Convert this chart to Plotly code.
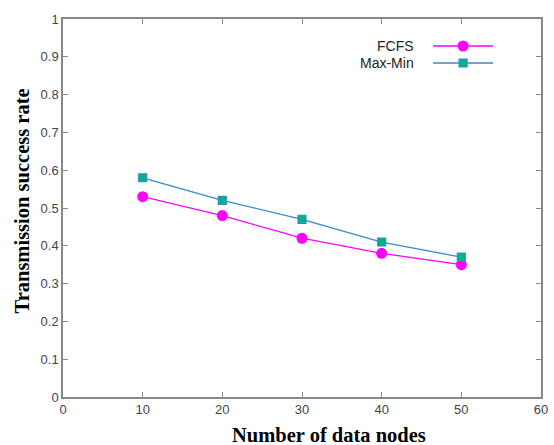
import plotly.graph_objects as go

nodes = [10, 20, 30, 40, 50]
fcfs = [0.53, 0.48, 0.42, 0.38, 0.35]
maxmin = [0.58, 0.52, 0.47, 0.41, 0.37]
series_names = ["FCFS", "Max-Min"]

fig = go.Figure()
fig.add_trace(go.Scatter(x=nodes, y=fcfs, mode="lines+markers", name=series_names[0],
                         line=dict(color="#FF00FF", width=1.3),
                         marker=dict(symbol="circle", size=11, color="#FF00FF")))
fig.add_trace(go.Scatter(x=nodes, y=maxmin, mode="lines+markers", name=series_names[1],
                         line=dict(color="#3A8AC9", width=1.3),
                         marker=dict(symbol="square", size=8, color="#00B386",
                                     line=dict(color="#3A8AC9", width=1.2))))

# Legend samples (text left, symbol right) drawn on an overlay axis
lx = [0.774, 0.837, 0.8996]
ly = [0.9286, 0.8836]
fig.add_trace(go.Scatter(x=lx, y=[ly[0]] * 3, mode="lines", xaxis="x2", yaxis="y2",
                         line=dict(color="#FF00FF", width=1.3), showlegend=False, hoverinfo="skip"))
fig.add_trace(go.Scatter(x=[lx[1]], y=[ly[0]], mode="markers", xaxis="x2", yaxis="y2",
                         marker=dict(symbol="circle", size=11, color="#FF00FF"),
                         showlegend=False, hoverinfo="skip"))
fig.add_trace(go.Scatter(x=lx, y=[ly[1]] * 3, mode="lines", xaxis="x2", yaxis="y2",
                         line=dict(color="#3A8AC9", width=1.3), showlegend=False, hoverinfo="skip"))
fig.add_trace(go.Scatter(x=[lx[1]], y=[ly[1]], mode="markers", xaxis="x2", yaxis="y2",
                         marker=dict(symbol="square", size=8, color="#00B386",
                                     line=dict(color="#3A8AC9", width=1.2)),
                         showlegend=False, hoverinfo="skip"))
for name, yy in zip(series_names, ly):
    fig.add_annotation(x=0.7385, y=yy, xref="paper", yref="paper", text=name,
                       showarrow=False, xanchor="right", yanchor="middle",
                       font=dict(family="Liberation Sans, Arial", size=14, color="#222222"))

title_font = dict(family="Liberation Serif, Times New Roman", size=20.5, color="#000000")
fig.add_annotation(x=0.5565, y=-0.1005, xref="paper", yref="paper",
                   text="<b>Number of data nodes</b>", showarrow=False,
                   xanchor="center", yanchor="middle", font=title_font)
fig.add_annotation(x=-0.0868, y=0.5185, xref="paper", yref="paper",
                   text="<b>Transmission success rate</b>", showarrow=False, textangle=-90,
                   xanchor="center", yanchor="middle", font=title_font)

axis_common = dict(showgrid=False, zeroline=False, showline=True, linecolor="#888888",
                   linewidth=1.5, mirror="ticks", ticks="inside", ticklen=5,
                   tickcolor="#888888", tickwidth=1.2, automargin=False,
                   tickfont=dict(family="Liberation Sans, Arial", size=13, color="#444444"))

fig.update_layout(
    width=554, height=445,
    margin=dict(l=63, r=13, t=19, b=48, autoexpand=False),
    paper_bgcolor="white", plot_bgcolor="white",
    showlegend=False,
    xaxis=dict(range=[0, 60], tickvals=[0, 10, 20, 30, 40, 50, 60], **axis_common),
    yaxis=dict(range=[0, 1], tickvals=[0, 0.1, 0.2, 0.3, 0.4, 0.5, 0.6, 0.7, 0.8, 0.9, 1],
               ticktext=["0", "0.1", "0.2", "0.3", "0.4", "0.5", "0.6", "0.7", "0.8", "0.9", "1"],
               **axis_common),
    xaxis2=dict(range=[0, 1], overlaying="x", visible=False, fixedrange=True),
    yaxis2=dict(range=[0, 1], overlaying="y", visible=False, fixedrange=True),
)

fig.write_html("out.html")
